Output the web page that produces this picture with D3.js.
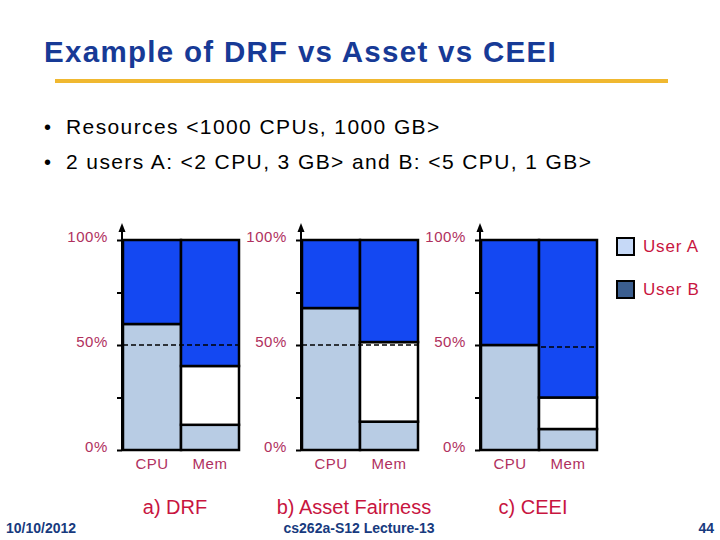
<!DOCTYPE html>
<html>
<head>
<meta charset="utf-8">
<script src="https://cdn.jsdelivr.net/npm/d3@7"></script>
<style>
  html, body { margin: 0; padding: 0; background: #fff; }
  svg { display: block; font-family: "Liberation Sans", Arial, sans-serif; }
</style>
</head>
<body>
<svg id="chart" width="720" height="540"></svg>
<script>
// ---- data ----
const categories = ["CPU", "Mem"];
const panelTitles = ["a) DRF", "b) Asset Fairness", "c) CEEI"];
// light (bottom) share per panel, per category, in %
const lowerShare = [[60, 12], [67.6, 13.5], [50, 10]];
// blue (top) share per panel, per category, in %
const upperShare = [[40, 60], [32.4, 48.6], [50, 75]];
// dashed 50% reference line: which categories it crosses in each panel
const dashedCats = [["CPU", "Mem"], ["CPU", "Mem"], ["Mem"]];
const dashLevel = [50, 50, 49];
const yTickValues = [0, 25, 50, 75, 100];
const yTickLabels = { 0: "0%", 50: "50%", 100: "100%" };
const legendLabels = ["User A", "User B"];
const titleText = "Example of DRF vs Asset vs CEEI";
const bullets = ["Resources <1000 CPUs, 1000 GB>", "2 users A: <2 CPU, 3 GB> and B: <5 CPU, 1 GB>"];
const footer = { date: "10/10/2012", course: "cs262a-S12 Lecture-13", page: "44" };

// ---- style ----
const C = {
  title: "#173a96", rule: "#f0b830", text: "#000",
  light: "#b8cce4", blue: "#1448f2", white: "#ffffff",
  tick: "#b0305e", caption: "#c8153f", legA: "#c6d9f7", legB: "#3b5e8f", footer: "#173a7e"
};

const svg = d3.select("#chart");

// title
svg.append("text").attr("x", 44).attr("y", 62).attr("fill", C.title)
  .attr("font-size", 29.5).attr("font-weight", "bold").attr("letter-spacing", 1.3).text(titleText);
svg.append("rect").attr("x", 55).attr("y", 79).attr("width", 613).attr("height", 4).attr("fill", C.rule);

// bullets
bullets.forEach((b, i) => {
  const y = 134 + i * 35;
  svg.append("text").attr("x", 44).attr("y", y).attr("font-size", 20).attr("fill", C.text).text("\u2022");
  svg.append("text").attr("x", 66).attr("y", y).attr("font-size", 21).attr("letter-spacing", 1.4)
    .attr("fill", C.text).text(b);
});

// panels
const axisXs = [122, 301, 480];
const y = d3.scaleLinear().domain([0, 100]).range([450, 240]);

panelTitles.forEach((pt, p) => {
  const ax = axisXs[p];
  const g = svg.append("g");
  const x = d3.scaleBand().domain(categories).range([ax + 1, ax + 1 + 116]).paddingInner(0);

  // axis
  const axis = d3.axisLeft(y).tickValues(yTickValues).tickSizeInner(5).tickSizeOuter(0)
    .tickPadding(9).tickFormat(d => yTickLabels[d] || "");
  const ag = g.append("g").attr("transform", `translate(${ax},0)`).call(axis);
  ag.select(".domain").remove();
  ag.selectAll(".tick line").attr("stroke", "#000").attr("stroke-width", 2);
  ag.selectAll(".tick text").attr("fill", C.tick).attr("font-size", 15).attr("letter-spacing", 0.6)
    .attr("font-family", "'Liberation Sans', Arial, sans-serif").attr("dy", "0.1em");
  g.append("line").attr("x1", ax).attr("x2", ax).attr("y1", y(0)).attr("y2", 229)
    .attr("stroke", "#000").attr("stroke-width", 2);
  g.append("path").attr("d", `M${ax - 3.5},${232} L${ax},${223} L${ax + 3.5},${232} Z`).attr("fill", "#000");

  // bars
  categories.forEach((c, i) => {
    const lo = lowerShare[p][i], up = upperShare[p][i];
    const segs = [
      { a: 0, b: lo, fill: C.light },
      { a: lo, b: 100 - up, fill: C.white },
      { a: 100 - up, b: 100, fill: C.blue }
    ].filter(s => s.b - s.a > 0.01);
    segs.forEach(s => {
      g.append("rect").attr("x", x(c)).attr("width", x.bandwidth())
        .attr("y", y(s.b)).attr("height", y(s.a) - y(s.b))
        .attr("fill", s.fill).attr("stroke", "#000").attr("stroke-width", 2.5);
    });
  });

  // dashed line
  const dc = dashedCats[p];
  g.append("line")
    .attr("x1", x(dc[0]) + (dc[0] === categories[0] ? 0 : 2))
    .attr("x2", x(dc[dc.length - 1]) + x.bandwidth() - 1)
    .attr("y1", y(dashLevel[p])).attr("y2", y(dashLevel[p]))
    .attr("stroke", "#000").attr("stroke-width", 1.5).attr("stroke-dasharray", "5,3");

  // x labels
  categories.forEach(c => {
    g.append("text").attr("x", x(c) + x.bandwidth() / 2).attr("y", 469)
      .attr("text-anchor", "middle").attr("font-size", 15).attr("letter-spacing", 0.5)
      .attr("fill", C.tick).text(c);
  });

  // caption
  g.append("text").attr("x", ax + 53).attr("y", 514).attr("text-anchor", "middle")
    .attr("font-size", 20).attr("fill", C.caption).text(pt);
});

// legend
const legFills = [C.legA, C.legB];
legendLabels.forEach((l, i) => {
  const ly = 238 + i * 43;
  svg.append("rect").attr("x", 617).attr("y", ly).attr("width", 17).attr("height", 17)
    .attr("fill", legFills[i]).attr("stroke", "#000").attr("stroke-width", 2);
  svg.append("text").attr("x", 643).attr("y", ly + 14).attr("font-size", 17).attr("letter-spacing", 0.8)
    .attr("fill", C.caption).text(l);
});

// footer
svg.append("text").attr("x", 6).attr("y", 533).attr("font-size", 14).attr("font-weight", "bold")
  .attr("fill", C.footer).text(footer.date);
svg.append("text").attr("x", 359).attr("y", 533).attr("text-anchor", "middle").attr("font-size", 14)
  .attr("font-weight", "bold").attr("fill", C.footer).text(footer.course);
svg.append("text").attr("x", 714).attr("y", 533).attr("text-anchor", "end").attr("font-size", 14)
  .attr("font-weight", "bold").attr("fill", C.footer).text(footer.page);
</script>
</body>
</html>
